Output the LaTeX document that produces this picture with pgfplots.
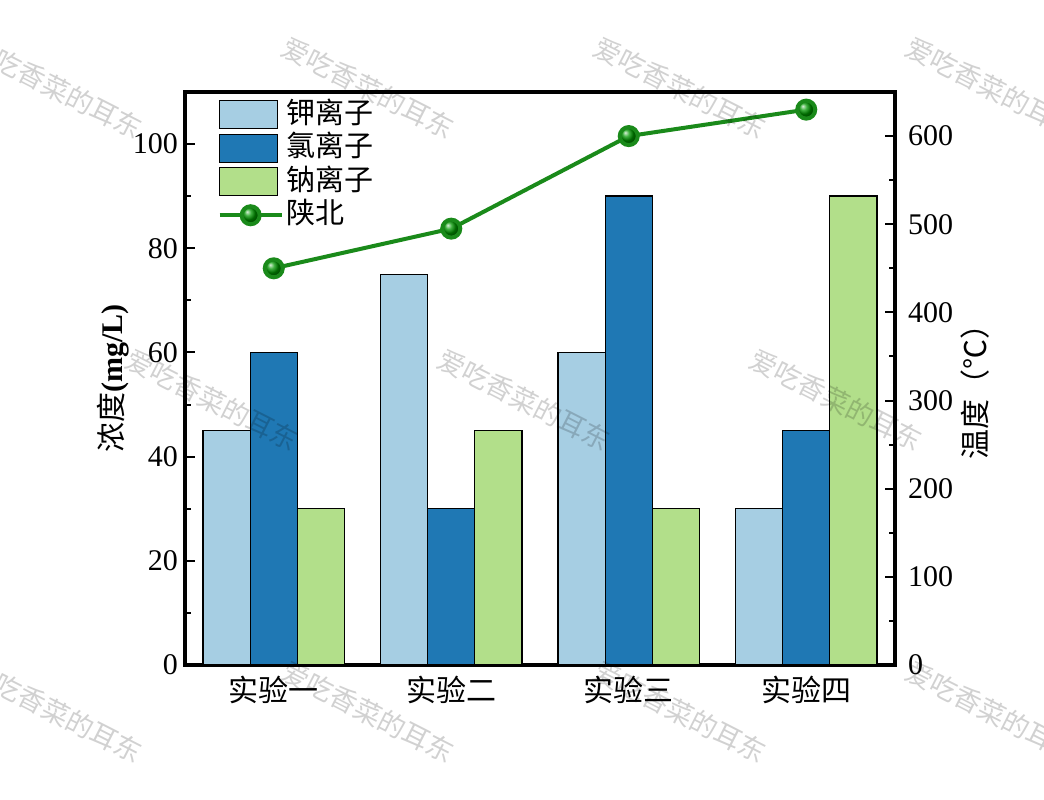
\documentclass[border=0pt]{standalone}
\usepackage{pgfplots}
\pgfplotsset{compat=1.18}
\usepackage{fontspec}
\setmainfont{Liberation Serif}
\newfontfamily\cjk{Noto Sans CJK SC}
\definecolor{cA}{HTML}{A6CEE3}
\definecolor{cB}{HTML}{1F78B4}
\definecolor{cC}{HTML}{B2DF8A}
\definecolor{lg}{RGB}{26,138,26}
\definecolor{bg}{RGB}{0,150,0}
\pgfplotsset{
  linelegend/.style={legend image code/.code={\draw[mark repeat=2,mark phase=2,##1] plot coordinates {(0bp,0bp) (15.5bp,0bp) (31bp,0bp)};}},
  barlegend/.style={legend image code/.code={\draw[fill=#1,draw=black,line width=0.7bp] (0bp,-7bp) rectangle (29bp,7bp);}},
}
\begin{document}
\begin{tikzpicture}
\useasboundingbox (-92.5bp,-67.5bp) rectangle (429.5bp,332.5bp);
\begin{axis}[
  scale only axis, width=355bp, height=286.5bp,
  xmin=-0.5, xmax=3.5, ymin=0, ymax=110,
  axis line style={line width=1.6bp},
  xtick={0,1,2,3},
  xticklabels={{\cjk 实验一},{\cjk 实验二},{\cjk 实验三},{\cjk 实验四}},
  xtick style={draw=none},
  xticklabel style={font=\fontsize{15bp}{18bp}\selectfont, yshift=-2bp},
  ytick={0,20,...,100}, minor y tick num=1,
  ytick pos=left, tick align=inside,
  major tick length=5bp, minor tick length=3bp,
  every tick/.style={line width=1bp, black},
  yticklabel style={font=\fontsize{15bp}{18bp}\selectfont},
  /pgf/number format/assume math mode=true,
  ylabel={{\cjk 浓度}\textbf{(mg/L)}},
  ylabel style={at={(axis description cs:-0.1014,0.5)}, anchor=center, rotate=0, font=\fontsize{15bp}{18bp}\selectfont},
  legend style={at={(axis description cs:0.037,0.995)}, anchor=north west, draw=none, fill=none,
    font=\fontsize{14.5bp}{17bp}\selectfont,
    nodes={inner sep=1.5bp, text height=10.5bp, text depth=2bp}, row sep=1.25bp},
  legend cell align=left,
]
\addplot[ybar, bar width=0.265, bar shift=-0.265, fill=cA, draw=black, line width=0.7bp, barlegend=cA]
  coordinates {(0,45) (1,75) (2,60) (3,30)};
\addlegendentry{\cjk 钾离子}
\addplot[ybar, bar width=0.265, bar shift=0, fill=cB, draw=black, line width=0.7bp, barlegend=cB]
  coordinates {(0,60) (1,30) (2,90) (3,45)};
\addlegendentry{\cjk 氯离子}
\addplot[ybar, bar width=0.265, bar shift=0.265, fill=cC, draw=black, line width=0.7bp, barlegend=cC]
  coordinates {(0,30) (1,45) (2,30) (3,90)};
\addlegendentry{\cjk 钠离子}
\addlegendimage{sharp plot, draw=lg, line width=2bp, mark=ball, mark options={ball color=bg}, mark size=4.5bp, linelegend}
\addlegendentry{\cjk 陕北}
\end{axis}
\begin{axis}[
  scale only axis, width=355bp, height=286.5bp,
  xmin=-0.5, xmax=3.5, ymin=0, ymax=650,
  axis x line=none, axis y line*=right,
  axis line style={line width=1.6bp},
  ytick={0,100,...,600}, minor y tick num=1,
  tick align=inside,
  major tick length=5bp, minor tick length=3bp,
  every tick/.style={line width=1bp, black},
  yticklabel style={font=\fontsize{15bp}{18bp}\selectfont, xshift=3bp},
  /pgf/number format/assume math mode=true,
  ylabel={\cjk 温度（℃）},
  ylabel style={at={(axis description cs:1.113,0.49)}, anchor=center, rotate=0, font=\fontsize{15bp}{18bp}\selectfont},
]
\addplot[sharp plot, draw=lg, line width=2bp, mark=ball, mark options={ball color=bg}, mark size=4.5bp]
  coordinates {(0,450) (1,495) (2,600) (3,630)};
\end{axis}
\begin{scope}[every node/.style={font=\cjk\fontsize{13.5bp}{16bp}\selectfont, text=black, text opacity=0.18, rotate=-27}]
\foreach \x in {-64.5,91.5,247.5,403.5} {
  \node at (\x bp,288.5bp) {爱吃香菜的耳东};
  \node at (\x bp,-23.5bp) {爱吃香菜的耳东};
}
\foreach \x in {-142.5,13.5,169.5,325.5} {
  \node at (\x bp,132.5bp) {爱吃香菜的耳东};
}
\end{scope}
\end{tikzpicture}
\end{document}
